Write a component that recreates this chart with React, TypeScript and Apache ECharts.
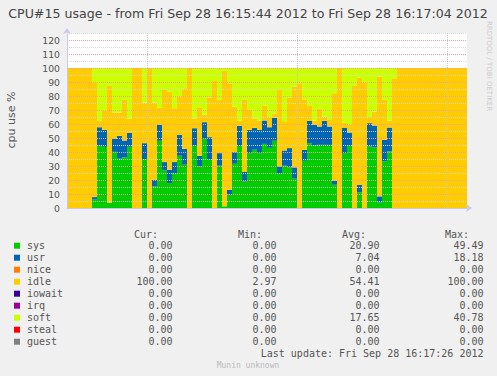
import React, { useEffect, useRef } from "react";
import * as echarts from "echarts";

// one sample per second, 16:15:44 .. 16:17:03
const startSeconds = 16 * 3600 + 15 * 60 + 44;
const sampleCount = 80;

const sys = [
  0, 0, 0, 0, 0,
  6.0, 44.4, 43.7, 3.8, 40.1, 35.2, 36.1, 43.7,
  0, 0,
  35.0,
  0,
  15.4, 48.0, 26.8, 17.8, 24.9, 37.3, 30.9,
  0,
  44.4, 29.7, 49.4, 34.4,
  0,
  30.2, 1.2, 9.5, 31.6, 44.4, 19.0, 39.2, 41.6, 39.2, 45.8, 43.0, 48.0, 24.9, 30.2, 29.0, 20.9,
  0,
  33.7, 46.3, 44.7, 45.1, 45.1, 45.1, 16.6,
  0,
  39.2, 44.4,
  0,
  11.2,
  0,
  43.9, 43.2, 4.0, 33.3, 40.4,
  0, 0, 0, 0, 0, 0, 0, 0, 0, 0, 0, 0, 0, 0, 0,
];

const usr = [
  0, 0, 0, 0, 0,
  1.8, 13.3, 12.1, 0, 9.3, 16.3, 12.1, 10.0,
  0, 0,
  11.3,
  0,
  4.8, 11.4, 6.0, 9.5, 7.9, 15.0, 11.4,
  0,
  12.6, 7.6, 11.9, 16.2,
  0,
  9.0, 0, 3.5, 8.3, 14.3, 6.7, 16.6, 15.6, 16.6, 16.7, 14.7, 16.4, 4.8, 10.9, 13.8, 8.1,
  0,
  7.9, 15.9, 14.7, 13.1, 17.1, 13.1, 2.9,
  0,
  18.2, 9.5,
  0,
  5.4,
  0,
  16.7, 15.7, 4.3, 15.4, 17.1,
  0, 0, 0, 0, 0, 0, 0, 0, 0, 0, 0, 0, 0, 0, 0,
];

const idle = [
  100, 100, 100, 100, 100,
  81.5, 4.8, 13.6, 83.4, 18.8, 16.7, 29.0, 10.0,
  100, 100,
  29.0,
  100,
  55.1, 12.1, 51.5, 55.8, 38.5, 27.3, 43.2,
  100,
  7.0, 34.7, 5.4, 28.4,
  90.7,
  38.0, 96.7, 76.1, 32.5, 3.8, 51.5, 14.2, 6.8, 6.7, 10.5, 7.3, 3.1, 55.1, 20.9, 35.8, 57.7,
  89.1,
  36.1, 10.7, 3.1, 12.6, 3.1, 5.2, 62.5,
  100,
  3.4, 5.5,
  87.2,
  76.5,
  89.8,
  4.4, 10.0, 85.5, 28.5, 5.0,
  92.6,
  100, 100, 100, 100, 100, 100, 100, 100, 100, 100, 100, 100, 100, 100,
];

const soft = [
  0, 0, 0, 0, 0,
  10.7, 37.5, 30.6, 12.8, 31.8, 31.8, 22.8, 36.3,
  0, 0,
  24.7,
  0,
  24.7, 28.5, 15.7, 16.9, 28.7, 20.4, 14.5,
  0,
  36.0, 28.0, 33.3, 21.0,
  9.3,
  22.8, 2.1, 10.9, 27.6, 37.5, 22.8, 30.0, 36.0, 37.5, 27.0, 35.0, 32.5, 15.2, 38.0, 21.4, 13.3,
  10.9,
  22.3, 27.1, 37.5, 29.2, 34.7, 36.6, 18.0,
  0,
  39.2, 40.6,
  12.8,
  6.9,
  10.2,
  35.0, 31.1, 6.2, 22.8, 37.5,
  7.4,
  0, 0, 0, 0, 0, 0, 0, 0, 0, 0, 0, 0, 0, 0,
];

// vertical grid at 16:16:00, 16:16:30, 16:17:00 (seconds after start)
const gridSeconds = [16, 46, 76];

const legendNames = ["sys", "usr", "nice", "idle", "iowait", "irq", "soft", "steal", "guest"];
const legendColors = ["#00CC00", "#0066B3", "#FF8000", "#FFCC00", "#330099", "#990099", "#CCFF00", "#FF0000", "#808080"];
const curVals = ["0.00", "0.00", "0.00", "100.00", "0.00", "0.00", "0.00", "0.00", "0.00"];
const minVals = ["0.00", "0.00", "0.00", "2.97", "0.00", "0.00", "0.00", "0.00", "0.00"];
const avgVals = ["20.90", "7.04", "0.00", "54.41", "0.00", "0.00", "17.65", "0.00", "0.00"];
const maxVals = ["49.49", "18.18", "0.00", "100.00", "0.00", "0.00", "40.78", "0.00", "0.00"];

const titleText = "CPU#15 usage - from Fri Sep 28 16:15:44 2012 to Fri Sep 28 16:17:04 2012";
const lastUpdate = "Last update: Fri Sep 28 16:17:26 2012";

const pad = (n: number) => (n < 10 ? "0" + n : "" + n);
const categories: string[] = [];
for (let i = 0; i < sampleCount; i++) {
  const t = startSeconds + i;
  categories.push(pad(Math.floor(t / 3600)) + ":" + pad(Math.floor((t % 3600) / 60)) + ":" + pad(t % 60));
}

const MONO = "DejaVu Sans Mono";
const SANS = "DejaVu Sans";
const TXT = "#555555";

export default function App() {
  const ref = useRef<HTMLDivElement>(null);

  useEffect(() => {
    if (!ref.current) return;
    const chart = echarts.init(ref.current, undefined, { renderer: "svg" });

    const graphics: any[] = [];
    graphics.push({
      type: "text",
      x: 248,
      y: 13,
      style: { text: titleText, font: `12.6px '${SANS}'`, fill: "#444444", align: "center", verticalAlign: "middle", textAlign: "center", textVerticalAlign: "middle" },
    });
    graphics.push({
      type: "text",
      x: 11,
      y: 120,
      rotation: Math.PI / 2,
      style: { text: "cpu use %", font: `11px '${SANS}'`, fill: TXT, align: "center", verticalAlign: "middle", textAlign: "center", textVerticalAlign: "middle" },
    });
    graphics.push({
      type: "text",
      x: 489,
      y: 66,
      rotation: -Math.PI / 2,
      style: { text: "RRDTOOL / TOBI OETIKER", font: `7px '${SANS}'`, fill: "#cccccc", align: "center", verticalAlign: "middle", textAlign: "center", textVerticalAlign: "middle" },
    });
    const headerY = 234;
    const headers: [string, number][] = [["Cur:", 158], ["Min:", 262], ["Avg:", 366], ["Max:", 469]];
    headers.forEach(([t, x]) =>
      graphics.push({
        type: "text",
        x,
        y: headerY,
        style: { text: t, font: `10px '${MONO}'`, fill: TXT, align: "right", verticalAlign: "middle", textAlign: "right", textVerticalAlign: "middle" },
      })
    );
    legendNames.forEach((name, i) => {
      const y = 245.7 + 12 * i;
      graphics.push({ type: "rect", shape: { x: 14, y: y - 3, width: 6, height: 6 }, style: { fill: legendColors[i] } });
      graphics.push({
        type: "text",
        x: 27,
        y,
        style: { text: name, font: `10px '${MONO}'`, fill: TXT, align: "left", verticalAlign: "middle", textAlign: "left", textVerticalAlign: "middle" },
      });
      const cols: [string[], number][] = [[curVals, 172.5], [minVals, 276.5], [avgVals, 379.5], [maxVals, 483.5]];
      cols.forEach(([arr, x]) =>
        graphics.push({
          type: "text",
          x,
          y,
          style: { text: arr[i], font: `10px '${MONO}'`, fill: TXT, align: "right", verticalAlign: "middle", textAlign: "right", textVerticalAlign: "middle" },
        })
      );
    });
    graphics.push({
      type: "text",
      x: 483.5,
      y: 353.5,
      style: { text: lastUpdate, font: `10px '${MONO}'`, fill: TXT, align: "right", verticalAlign: "middle", textAlign: "right", textVerticalAlign: "middle" },
    });
    graphics.push({
      type: "text",
      x: 248,
      y: 365,
      style: { text: "Munin unknown", font: `8px '${MONO}'`, fill: "#bbbbbb", align: "center", verticalAlign: "middle", textAlign: "center", textVerticalAlign: "middle" },
    });

    const barSeries = (name: string, data: number[], color: string) => ({
      name,
      type: "bar",
      stack: "cpu",
      data,
      barCategoryGap: 0,
      barWidth: "100%",
      itemStyle: { color },
      silent: true,
      z: 2,
    });

    chart.setOption({
      animation: false,
      backgroundColor: "#F0F0F0",
      grid: { left: 67, top: 33, width: 400, height: 175, show: true, backgroundColor: "#FFFFFF", borderWidth: 0 },
      xAxis: [
        {
          type: "category",
          data: categories,
          boundaryGap: true,
          axisLabel: { show: false },
          axisTick: { show: false },
          splitLine: { show: false },
          axisLine: {
            show: true,
            lineStyle: { color: "#C8C8F0", width: 1 },
            symbol: ["none", "arrow"],
            symbolSize: [6, 6],
            symbolOffset: [0, 5],
          },
          z: 6,
        },
        { type: "value", min: 0, max: sampleCount, show: false },
      ],
      yAxis: {
        type: "value",
        min: 0,
        max: 125,
        interval: 5,
        z: 5,
        axisLabel: {
          formatter: (v: number) => (v % 10 === 0 && v <= 120 ? String(v) : ""),
          fontFamily: SANS,
          fontSize: 9.3,
          color: TXT,
          margin: 7,
        },
        axisTick: { show: false },
        axisLine: {
          show: true,
          lineStyle: { color: "#C8C8F0", width: 1 },
          symbol: ["none", "arrow"],
          symbolSize: [6, 6],
          symbolOffset: [0, 5],
        },
        splitLine: {
          show: true,
          lineStyle: { color: ["#F0A0A0", "#D8D8D8"], type: [1, 1], width: 1 },
        },
      },
      series: [
        barSeries("sys", sys, legendColors[0]),
        barSeries("usr", usr, legendColors[1]),
        barSeries("idle", idle, legendColors[3]),
        barSeries("soft", soft, legendColors[6]),
        {
          type: "line",
          xAxisIndex: 1,
          yAxisIndex: 0,
          data: [],
          silent: true,
          z: 6,
          markLine: {
            silent: true,
            symbol: ["none", "none"],
            label: { show: false },
            lineStyle: { color: "#C8C8C8", type: [1, 1], width: 1 },
            data: gridSeconds.map((s) => ({ xAxis: s })),
          },
        },
      ],
      graphic: graphics,
    });

    return () => chart.dispose();
  }, []);

  return <div ref={ref} style={{ position: "fixed", left: 0, top: 0, width: 497, height: 376 }} />;
}
